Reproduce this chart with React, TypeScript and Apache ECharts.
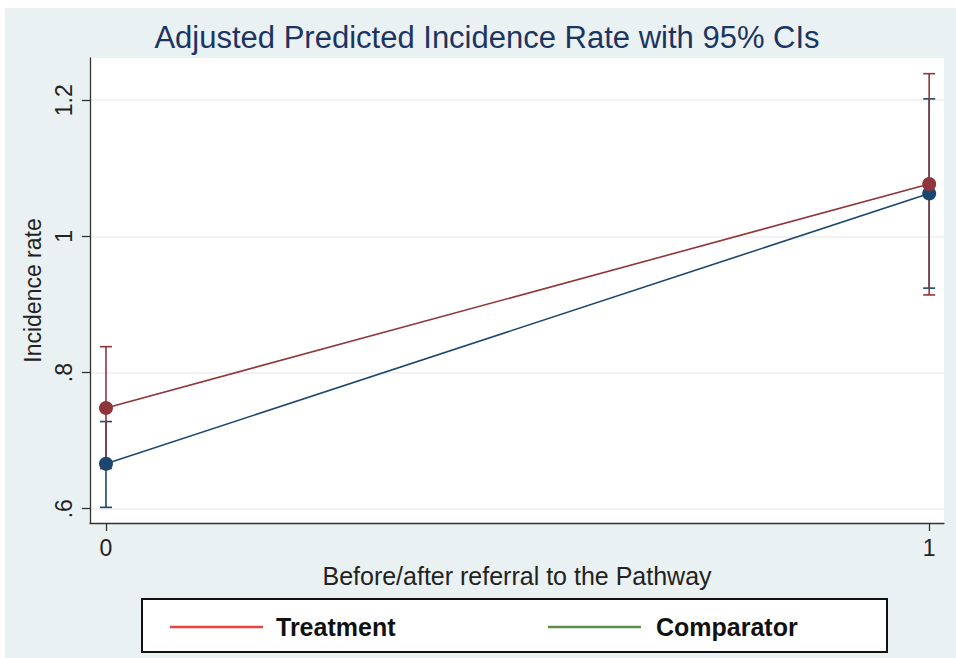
import React, { useEffect, useRef } from "react";
import * as echarts from "echarts";

const xValues = [0, 1];
const xTickLabels = ["0", "1"];
const yTicks = [0.6, 0.8, 1.0, 1.2];
const treatmentRate = [0.748, 1.077];
const treatmentLow = [0.659, 0.914];
const treatmentHigh = [0.838, 1.239];
const comparatorRate = [0.666, 1.063];
const comparatorLow = [0.602, 0.924];
const comparatorHigh = [0.728, 1.202];
const legendNames = ["Treatment", "Comparator"];

const RED = "#90353b";
const BLUE = "#1a476f";

function ciSeries(name: string, low: number[], high: number[], color: string, z: number) {
  return {
    name,
    type: "custom",
    z,
    silent: true,
    data: xValues.map((x, i) => [x, low[i], high[i]]),
    renderItem: (params: any, api: any) => {
      const x = api.value(0);
      const lo = api.coord([x, api.value(1)]);
      const hi = api.coord([x, api.value(2)]);
      const hw = 6;
      const style = { stroke: color, lineWidth: 1.6, fill: "none" };
      return {
        type: "group",
        children: [
          { type: "line", shape: { x1: lo[0], y1: lo[1], x2: hi[0], y2: hi[1] }, style },
          { type: "line", shape: { x1: lo[0] - hw, y1: lo[1], x2: lo[0] + hw, y2: lo[1] }, style },
          { type: "line", shape: { x1: hi[0] - hw, y1: hi[1], x2: hi[0] + hw, y2: hi[1] }, style },
        ],
      };
    },
  };
}

export default function App() {
  const ref = useRef<HTMLDivElement>(null);
  useEffect(() => {
    const chart = echarts.init(ref.current!, null, { renderer: "svg" });
    const font = "Liberation Sans, Arial, sans-serif";
    const option: any = {
      animation: false,
      backgroundColor: "#ffffff",
      title: {
        text: "Adjusted Predicted Incidence Rate with 95% CIs",
        left: 482,
        textAlign: "center",
        top: 17,
        textStyle: { fontFamily: font, fontSize: 31, fontWeight: "normal", color: "#1c3461" },
      },
      grid: {
        left: 90,
        top: 58,
        right: 12,
        bottom: 135,
        show: true,
        backgroundColor: "#ffffff",
        borderWidth: 0,
      },
      xAxis: {
        type: "value",
        min: -0.0194,
        max: 1.018,
        name: "Before/after referral to the Pathway",
        nameLocation: "middle",
        nameGap: 40,
        nameTextStyle: { fontFamily: font, fontSize: 25, color: "#222" },
        axisLine: { show: true, onZero: false, lineStyle: { color: "#333", width: 1.3 } },
        axisTick: { show: true, length: 8, customValues: xValues, lineStyle: { color: "#333", width: 1.3 } },
        axisLabel: {
          customValues: xValues,
          margin: 13,
          fontFamily: font,
          fontSize: 23,
          color: "#222",
          formatter: (v: number) => xTickLabels[xValues.indexOf(v)] ?? String(v),
        },
        splitLine: { show: false },
      },
      yAxis: {
        type: "value",
        min: 0.579,
        max: 1.262,
        name: "Incidence rate",
        nameLocation: "middle",
        nameGap: 44,
        nameRotate: 90,
        nameTextStyle: { fontFamily: font, fontSize: 23, color: "#222" },
        axisLine: { show: true, onZero: false, lineStyle: { color: "#333", width: 1.3 } },
        axisTick: { show: true, length: 8, customValues: yTicks, lineStyle: { color: "#333", width: 1.3 } },
        axisLabel: {
          customValues: yTicks,
          rotate: 90,
          margin: 15,
          fontFamily: font,
          fontSize: 23,
          color: "#222",
          formatter: (v: number) => {
            const s = String(Math.round(v * 10) / 10);
            return s.startsWith("0.") ? s.slice(1) : s;
          },
        },
        splitLine: { show: true, lineStyle: { color: "#ececec", width: 1.5 } },
      },
      series: [
        ciSeries("Comparator CI", comparatorLow, comparatorHigh, BLUE, 2),
        ciSeries("Treatment CI", treatmentLow, treatmentHigh, RED, 3),
        {
          name: "Comparator",
          type: "line",
          z: 4,
          data: xValues.map((x, i) => [x, comparatorRate[i]]),
          symbol: "circle",
          symbolSize: 14,
          lineStyle: { color: BLUE, width: 1.6 },
          itemStyle: { color: BLUE },
        },
        {
          name: "Treatment",
          type: "line",
          z: 5,
          data: xValues.map((x, i) => [x, treatmentRate[i]]),
          symbol: "circle",
          symbolSize: 14,
          lineStyle: { color: RED, width: 1.6 },
          itemStyle: { color: RED },
        },
      ],
      graphic: [
        {
          type: "rect",
          z: -100,
          silent: true,
          shape: { x: 5, y: 8, width: 951, height: 650 },
          style: { fill: "#eaf1f3" },
        },
        {
          type: "rect",
          z: 10,
          shape: { x: 142, y: 599, width: 745, height: 53 },
          style: { fill: "#ffffff", stroke: "#111", lineWidth: 2 },
        },
        {
          type: "line",
          z: 11,
          shape: { x1: 170, y1: 627, x2: 263, y2: 627 },
          style: { stroke: "#e8453c", lineWidth: 2.5 },
        },
        {
          type: "text",
          z: 11,
          x: 276,
          y: 627,
          style: {
            text: legendNames[0],
            fill: "#111",
            font: "bold 25px 'Liberation Sans', Arial, sans-serif",
            verticalAlign: "middle",
          },
        },
        {
          type: "line",
          z: 11,
          shape: { x1: 548, y1: 627, x2: 641, y2: 627 },
          style: { stroke: "#5f8f4e", lineWidth: 2.5 },
        },
        {
          type: "text",
          z: 11,
          x: 656,
          y: 627,
          style: {
            text: legendNames[1],
            fill: "#111",
            font: "bold 25px 'Liberation Sans', Arial, sans-serif",
            verticalAlign: "middle",
          },
        },
      ],
    };
    chart.setOption(option);
    return () => chart.dispose();
  }, []);
  return (
    <div
      ref={ref}
      style={{ position: "absolute", left: 0, top: 0, width: 956, height: 658 }}
    />
  );
}
